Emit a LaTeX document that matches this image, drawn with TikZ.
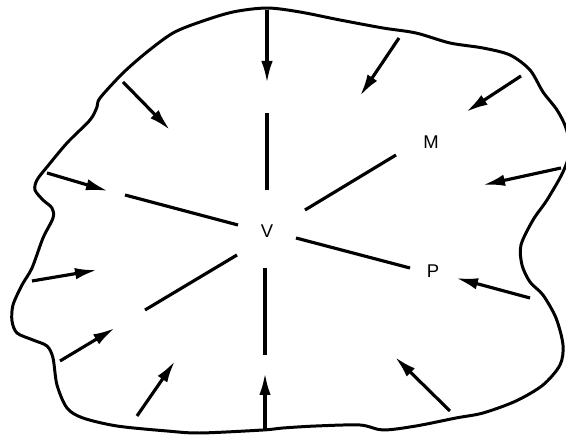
\documentclass[tikz,border=0pt]{standalone}
\usepackage{fontspec}
\setsansfont{Liberation Sans}
\usepackage{tikz}
\usetikzlibrary{arrows.meta}
\tikzset{
  pushline/.style={line width=1.8pt, -{Latex[length=0.44cm,width=0.23cm]}},
  rayline/.style={line width=1.8pt},
  ptlabel/.style={font=\sffamily\fontsize{10.5}{12}\selectfont, inner sep=1pt},
}

\begin{document}
\begin{tikzpicture}[x=0.02cm, y=-0.02cm]
    \useasboundingbox (0,0) rectangle (566,435);

    % region boundary
    \draw[line width=1.7pt] plot[smooth cycle, tension=0.5] coordinates {
      (267,8) (300,12) (340,20) (383,28) (416,33) (450,43) (483,48) (510,55)
      (530,70) (543,92) (557,110) (566,128) (570,150) (563,172) (547,200)
      (533,220) (521,245) (522,265) (530,282) (543,295) (556,318) (563,345)
      (560,365) (543,385) (516,401) (483,413) (456,418) (416,426) (383,430)
      (360,425) (316,426) (283,428) (263,430) (200,433) (167,431) (117,426)
      (83,418) (67,408) (57,385) (53,358) (47,346) (33,340) (17,333) (12,321)
      (13,305) (22,285) (32,268) (43,238) (53,218) (52,208) (43,200) (35,190)
      (37,180) (47,167) (67,143) (90,120) (97,107) (100,98) (123,73) (147,52)
      (173,33) (200,22) (233,12)};

    % labels
    \node[ptlabel] (V) at (267,231) {V};
    \node[ptlabel] (M) at (431,142) {M};
    \node[ptlabel] (P) at (433,271) {P};

    % rays through V
    \foreach \xa/\ya/\xb/\yb in {267/113/267/190, 125/195/238/225,
        237/255/145/310, 265/268/265/355, 296/238/410/268, 305/210/396/155}
      \draw[rayline] (\xa,\ya) -- (\xb,\yb);

    % inward arrows from the boundary
    \foreach \xa/\ya/\xb/\yb in {267/10/267/83, 123/82/170/130, 47/173/108/191,
        32/281/97/270, 60/361/115/328, 137/416/175/361, 265/430/265/373,
        450/411/395/357, 530/298/456/278, 561/168/483/185, 521/76/466/112,
        399/38/360/96}
      \draw[pushline] (\xa,\ya) -- (\xb,\yb);
\end{tikzpicture}
\end{document}
